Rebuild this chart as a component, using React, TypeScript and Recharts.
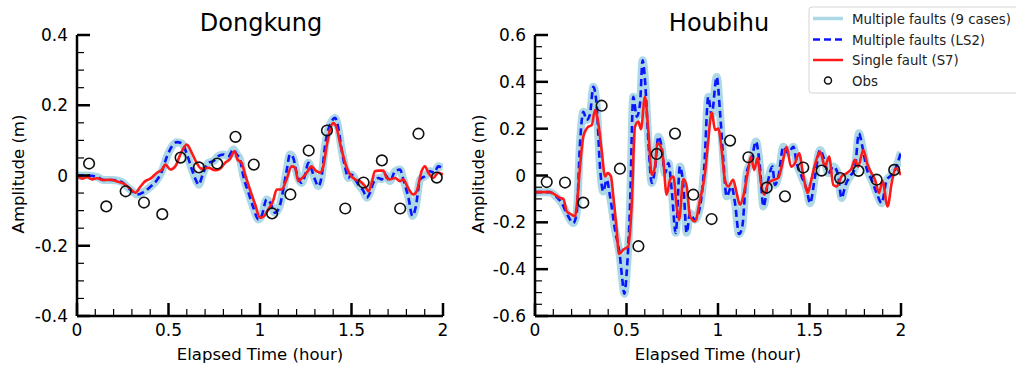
import { ComposedChart, Line, Scatter, XAxis, YAxis } from "recharts";

type Pt = [number, number];

const FONT = "DejaVu Sans";

// axis ticks
const xMajor = [0, 0.5, 1, 1.5, 2];
const xTicks = [0, 0.1, 0.2, 0.3, 0.4, 0.5, 0.6, 0.7, 0.8, 0.9, 1, 1.1, 1.2, 1.3, 1.4, 1.5, 1.6, 1.7, 1.8, 1.9, 2];
const dkYMajor = [-0.4, -0.2, 0, 0.2, 0.4];
const dkYTicks = [-0.4, -0.35, -0.3, -0.25, -0.2, -0.15, -0.1, -0.05, 0, 0.05, 0.1, 0.15, 0.2, 0.25, 0.3, 0.35, 0.4];
const hbYMajor = [-0.6, -0.4, -0.2, 0, 0.2, 0.4, 0.6];
const hbYTicks = [
  -0.6, -0.55, -0.5, -0.45, -0.4, -0.35, -0.3, -0.25, -0.2, -0.15, -0.1, -0.05, 0, 0.05, 0.1, 0.15, 0.2, 0.25, 0.3, 0.35,
  0.4, 0.45, 0.5, 0.55, 0.6,
];

// Dongkung
const dkS7: Pt[] = [
  [0, 0], [0.027, -0.009], [0.055, -0.004], [0.082, -0.011], [0.109, -0.008], [0.146, -0.013], [0.182, -0.012],
  [0.219, -0.017], [0.255, -0.023], [0.291, -0.038], [0.319, -0.049], [0.346, -0.032], [0.373, -0.016], [0.401, -0.009],
  [0.437, 0.008], [0.464, 0.017], [0.483, 0.031], [0.51, 0.017], [0.537, 0.026], [0.565, 0.06], [0.6, 0.088],
  [0.628, 0.064], [0.656, 0.034], [0.681, 0.019], [0.718, 0.022], [0.754, 0.015], [0.781, 0.019], [0.809, 0.036],
  [0.836, 0.047], [0.86, 0.069], [0.878, 0.045], [0.9, 0.036], [0.918, 0.003], [0.945, -0.04], [0.973, -0.082],
  [1.0, -0.12], [1.018, -0.117], [1.046, -0.096], [1.073, -0.07], [1.091, -0.04], [1.118, -0.04], [1.145, -0.011],
  [1.173, 0.026], [1.191, 0.023], [1.209, -0.016], [1.227, -0.009], [1.255, 0.008], [1.282, 0.026], [1.304, 0.014],
  [1.328, 0.008], [1.346, 0.026], [1.364, 0.083], [1.382, 0.13], [1.4, 0.149], [1.419, 0.135], [1.437, 0.093],
  [1.455, 0.055], [1.474, 0.022], [1.492, 0.003], [1.519, -0.011], [1.546, -0.016], [1.574, -0.03], [1.594, -0.045],
  [1.61, -0.021], [1.628, 0.012], [1.647, 0.014], [1.674, 0.014], [1.692, -0.007], [1.71, -0.011], [1.738, -0.007],
  [1.765, -0.016], [1.783, -0.011], [1.811, -0.038], [1.838, -0.054], [1.856, -0.045], [1.883, 0.012], [1.901, 0.026],
  [1.92, 0.008], [1.947, -0.007], [1.974, 0.008], [2.0, 0.003],
];
const dkLS2: Pt[] = [
  [0, 0], [0.055, 0], [0.109, -0.004], [0.146, -0.013], [0.2, -0.013], [0.246, -0.019], [0.273, -0.032],
  [0.301, -0.044], [0.328, -0.054], [0.364, -0.047], [0.401, -0.032], [0.437, -0.013], [0.464, 0.012], [0.492, 0.055],
  [0.519, 0.083], [0.546, 0.095], [0.574, 0.091], [0.601, 0.06], [0.628, 0.017], [0.652, -0.016], [0.665, -0.026],
  [0.69, 0.008], [0.718, 0.036], [0.745, 0.041], [0.772, 0.055], [0.8, 0.06], [0.827, 0.055], [0.855, 0.074],
  [0.873, 0.06], [0.891, 0.045], [0.909, -0.002], [0.937, -0.049], [0.964, -0.092], [0.991, -0.125], [1.009, -0.115],
  [1.036, -0.068], [1.055, -0.077], [1.082, -0.106], [1.109, -0.085], [1.127, -0.04], [1.145, 0.012], [1.164, 0.06],
  [1.182, 0.05], [1.2, 0.008], [1.227, -0.021], [1.246, 0.001], [1.264, 0.036], [1.282, 0.017], [1.3, -0.011],
  [1.319, -0.03], [1.337, -0.002], [1.355, 0.083], [1.373, 0.13], [1.391, 0.154], [1.41, 0.164], [1.428, 0.135],
  [1.446, 0.074], [1.464, 0.026], [1.483, -0.007], [1.5, 0.003], [1.52, -0.011], [1.537, -0.026], [1.565, -0.044],
  [1.583, -0.063], [1.601, -0.049], [1.619, -0.021], [1.647, -0.007], [1.665, -0.011], [1.683, 0.003], [1.71, -0.016],
  [1.738, 0.012], [1.765, 0.017], [1.783, -0.011], [1.811, -0.063], [1.833, -0.115], [1.851, -0.09], [1.875, -0.011],
  [1.901, -0.002], [1.929, 0.012], [1.952, 0.008], [1.974, 0.026], [2.0, 0.021],
];
const dkObs: Pt[] = [
  [0.066, 0.034], [0.16, -0.088], [0.266, -0.045], [0.366, -0.077], [0.466, -0.11], [0.566, 0.051], [0.666, 0.023],
  [0.766, 0.034], [0.866, 0.11], [0.966, 0.031], [1.066, -0.108], [1.166, -0.054], [1.266, 0.071], [1.366, 0.128],
  [1.466, -0.094], [1.566, -0.02], [1.666, 0.043], [1.766, -0.094], [1.866, 0.119], [1.966, -0.006],
];

// Houbihu
const hbS7: Pt[] = [
  [0, -0.071], [0.082, -0.071], [0.109, -0.082], [0.137, -0.096], [0.155, -0.1], [0.173, -0.153], [0.2, -0.167],
  [0.219, -0.175], [0.228, -0.13], [0.246, 0.038], [0.264, 0.166], [0.291, 0.208], [0.31, 0.215], [0.328, 0.28],
  [0.346, 0.223], [0.364, 0.109], [0.383, -0.004], [0.397, 0.01], [0.415, -0.004], [0.428, -0.089], [0.446, -0.231],
  [0.459, -0.335], [0.483, -0.316], [0.51, -0.302], [0.528, -0.132], [0.546, 0.208], [0.565, 0.23], [0.579, 0.198],
  [0.601, 0.336], [0.619, 0.194], [0.638, 0.003], [0.656, 0.04], [0.668, 0.138], [0.683, 0.13], [0.701, 0.067],
  [0.719, -0.082], [0.738, -0.018], [0.756, -0.004], [0.774, -0.132], [0.787, -0.19], [0.811, -0.015], [0.829, -0.047],
  [0.847, -0.174], [0.874, -0.196], [0.902, -0.103], [0.929, 0.01], [0.947, 0.152], [0.966, 0.27], [0.984, 0.194],
  [1.002, 0.2], [1.02, 0.109], [1.038, -0.02], [1.056, -0.047], [1.083, -0.018], [1.102, -0.075], [1.12, -0.125],
  [1.138, -0.089], [1.162, 0.01], [1.18, 0.081], [1.198, 0.024], [1.216, 0.074], [1.235, -0.032], [1.253, -0.082],
  [1.275, -0.032], [1.302, -0.02], [1.33, -0.01], [1.352, 0.053], [1.375, 0.123], [1.399, 0.038], [1.421, 0.053],
  [1.443, 0.095], [1.467, -0.004], [1.49, -0.075], [1.508, -0.024], [1.53, 0.046], [1.557, 0.102], [1.585, 0.038],
  [1.607, 0.081], [1.63, -0.04], [1.648, -0.047], [1.675, -0.004], [1.703, 0.01], [1.73, 0.031], [1.748, 0.067],
  [1.766, 0.038], [1.794, 0.109], [1.817, 0.046], [1.839, 0.01], [1.858, -0.018], [1.88, -0.075], [1.898, -0.024],
  [1.927, -0.132], [1.949, -0.032], [1.971, 0.031], [2.0, 0.002],
];
const hbLS2: Pt[] = [
  [0, -0.071], [0.082, -0.071], [0.109, -0.085], [0.146, -0.118], [0.182, -0.175], [0.209, -0.203], [0.228, -0.16],
  [0.246, 0.138], [0.264, 0.272], [0.282, 0.237], [0.3, 0.26], [0.319, 0.379], [0.337, 0.3], [0.355, 0.038],
  [0.373, -0.068], [0.392, -0.018], [0.41, -0.089], [0.437, -0.231], [0.464, -0.345], [0.477, -0.444], [0.488, -0.505],
  [0.501, -0.415], [0.519, -0.132], [0.537, 0.336], [0.556, 0.251], [0.574, 0.308], [0.588, 0.492], [0.601, 0.407],
  [0.619, 0.152], [0.638, -0.032], [0.656, 0.03], [0.674, 0.166], [0.692, 0.123], [0.71, 0.01], [0.729, 0.053],
  [0.747, -0.061], [0.769, -0.245], [0.792, 0.038], [0.811, -0.047], [0.829, -0.245], [0.847, -0.16], [0.874, -0.189],
  [0.902, -0.132], [0.925, 0.038], [0.947, 0.336], [0.965, 0.258], [0.993, 0.421], [1.011, 0.272], [1.029, 0.067],
  [1.047, -0.089], [1.074, -0.047], [1.093, -0.118], [1.115, -0.25], [1.133, -0.217], [1.156, 0.01], [1.184, 0.067],
  [1.207, 0.145], [1.229, 0.038], [1.248, -0.132], [1.275, -0.018], [1.297, 0.038], [1.311, -0.04], [1.33, -0.004],
  [1.357, 0.123], [1.384, 0.095], [1.412, 0.123], [1.43, 0.053], [1.457, -0.004], [1.485, -0.061], [1.503, -0.118],
  [1.53, -0.004], [1.557, 0.109], [1.581, 0.067], [1.603, 0.01], [1.63, 0.038], [1.654, 0.01], [1.675, -0.096],
  [1.697, -0.04], [1.721, -0.004], [1.748, 0.031], [1.77, 0.18], [1.789, 0.123], [1.812, 0.031], [1.839, -0.018],
  [1.867, -0.075], [1.894, -0.118], [1.922, -0.018], [1.94, -0.004], [1.967, 0.024], [2.0, 0.1],
];
const hbObs: Pt[] = [
  [0.064, -0.028], [0.164, -0.03], [0.264, -0.116], [0.364, 0.298], [0.464, 0.029], [0.565, -0.302], [0.665, 0.092],
  [0.765, 0.179], [0.865, -0.082], [0.965, -0.186], [1.066, 0.149], [1.166, 0.078], [1.266, -0.052], [1.366, -0.089],
  [1.466, 0.034], [1.566, 0.021], [1.667, -0.011], [1.767, 0.02], [1.867, -0.018], [1.963, 0.024],
];

const toRows = (pts: Pt[]) => pts.map(([t, v]) => ({ t, v }));

const BAND = "#add8e6";
const BLUE = "#0a14ff";
const RED = "#ff1a1a";

function XTick(props: any) {
  const { x, y, payload } = props;
  const major = xMajor.includes(payload.value);
  return (
    <g>
      <line x1={x} x2={x} y1={y} y2={y - (major ? 13 : 7)} stroke="#000" strokeWidth={major ? 2.5 : 1.2} />
      {major && (
        <text x={x} y={y + 20} textAnchor="middle" fontSize={17} fontFamily={FONT} fill="#000">
          {String(payload.value)}
        </text>
      )}
    </g>
  );
}

function YTick(props: any) {
  const { x, y, payload, majors } = props;
  const major = majors.includes(payload.value);
  return (
    <g>
      <line x1={x} x2={x + (major ? 13 : 7)} y1={y} y2={y} stroke="#000" strokeWidth={major ? 2.5 : 1.2} />
      {major && (
        <text x={x - 9} y={y + 6} textAnchor="end" fontSize={17} fontFamily={FONT} fill="#000">
          {String(payload.value)}
        </text>
      )}
    </g>
  );
}

const ObsDot = (p: any) => <circle cx={p.cx} cy={p.cy} r={5.3} fill="none" stroke="#111" strokeWidth={1.6} />;

interface PanelProps {
  left: number;
  margin: { top: number; right: number; bottom: number; left: number };
  yTicks: number[];
  yMajor: number[];
  s7: Pt[];
  ls2: Pt[];
  obs: Pt[];
}

function Panel({ left, margin, yTicks, yMajor, s7, ls2, obs }: PanelProps) {
  const lo = yTicks[0];
  const hi = yTicks[yTicks.length - 1];
  return (
    <div style={{ position: "absolute", left, top: 0 }}>
      <ComposedChart width={470} height={367} margin={margin}>
        <XAxis
          dataKey="t"
          type="number"
          domain={[0, 2]}
          ticks={xTicks}
          interval={0}
          height={30}
          tickSize={0}
          tickMargin={0}
          tickLine={false}
          axisLine={{ stroke: "#000", strokeWidth: 2.5 }}
          tick={(p: any) => <XTick {...p} />}
          allowDataOverflow
        />
        <YAxis
          dataKey="v"
          type="number"
          domain={[lo, hi]}
          ticks={yTicks}
          interval={0}
          width={60}
          tickSize={0}
          tickMargin={0}
          tickLine={false}
          axisLine={{ stroke: "#000", strokeWidth: 2.5 }}
          tick={(p: any) => <YTick {...p} majors={yMajor} />}
          allowDataOverflow
        />
        <Line
          data={toRows(ls2)}
          dataKey="v"
          name="Multiple faults (9 cases)"
          type="monotone"
          stroke={BAND}
          strokeWidth={8}
          dot={false}
          activeDot={false}
          isAnimationActive={false}
        />
        <Line
          data={toRows(ls2)}
          dataKey="v"
          name="Multiple faults (LS2)"
          type="monotone"
          stroke={BLUE}
          strokeWidth={2.6}
          strokeDasharray="7 4"
          dot={false}
          activeDot={false}
          isAnimationActive={false}
        />
        <Line
          data={toRows(s7)}
          dataKey="v"
          name="Single fault (S7)"
          type="monotone"
          stroke={RED}
          strokeWidth={2.6}
          dot={false}
          activeDot={false}
          isAnimationActive={false}
        />
        <Scatter data={toRows(obs)} dataKey="v" name="Obs" shape={ObsDot} isAnimationActive={false} />
      </ComposedChart>
    </div>
  );
}

export default function App() {
  return (
    <div
      style={{
        position: "absolute",
        left: 0,
        top: 0,
        width: 1016,
        height: 367,
        background: "#fff",
        overflow: "hidden",
        fontFamily: FONT,
      }}
    >
      <Panel
        left={0}
        margin={{ top: 35, right: 27, bottom: 21, left: 17 }}
        yTicks={dkYTicks}
        yMajor={dkYMajor}
        s7={dkS7}
        ls2={dkLS2}
        obs={dkObs}
      />
      <Panel
        left={460}
        margin={{ top: 35, right: 29, bottom: 21, left: 15 }}
        yTicks={hbYTicks}
        yMajor={hbYMajor}
        s7={hbS7}
        ls2={hbLS2}
        obs={hbObs}
      />
      <svg width={1016} height={367} style={{ position: "absolute", left: 0, top: 0, pointerEvents: "none" }}>
        <g fontFamily={FONT} fill="#000">
          <text x={261} y={31} fontSize={24} textAnchor="middle">Dongkung</text>
          <text x={719} y={31} fontSize={24} textAnchor="middle">Houbihu</text>
          <text x={260} y={360} fontSize={16.5} textAnchor="middle">Elapsed Time (hour)</text>
          <text x={718} y={360} fontSize={16.5} textAnchor="middle">Elapsed Time (hour)</text>
          <text x={24} y={174} fontSize={16.5} textAnchor="middle" transform="rotate(-90 24 174)">Amplitude (m)</text>
          <text x={484} y={174} fontSize={16.5} textAnchor="middle" transform="rotate(-90 484 174)">Amplitude (m)</text>
        </g>
        <g fontFamily={FONT}>
          <rect x={809} y={7} width={215} height={86} rx={3} fill="#fff" fillOpacity={0.9} stroke="#d4d4d4" />
          <line x1={813} x2={843} y1={18.5} y2={18.5} stroke={BAND} strokeWidth={3.5} />
          <line x1={813} x2={843} y1={39.5} y2={39.5} stroke={BLUE} strokeWidth={2.5} strokeDasharray="7 4" />
          <line x1={813} x2={843} y1={60} y2={60} stroke={RED} strokeWidth={2.5} />
          <circle cx={828} cy={80.5} r={3.5} fill="none" stroke="#111" strokeWidth={1.5} />
          <text x={852} y={23.5} fontSize={13.3} fill="#222">Multiple faults (9 cases)</text>
          <text x={852} y={44.5} fontSize={13.3} fill="#222">Multiple faults (LS2)</text>
          <text x={852} y={65} fontSize={13.3} fill="#222">Single fault (S7)</text>
          <text x={852} y={85.5} fontSize={13.3} fill="#222">Obs</text>
        </g>
      </svg>
    </div>
  );
}
